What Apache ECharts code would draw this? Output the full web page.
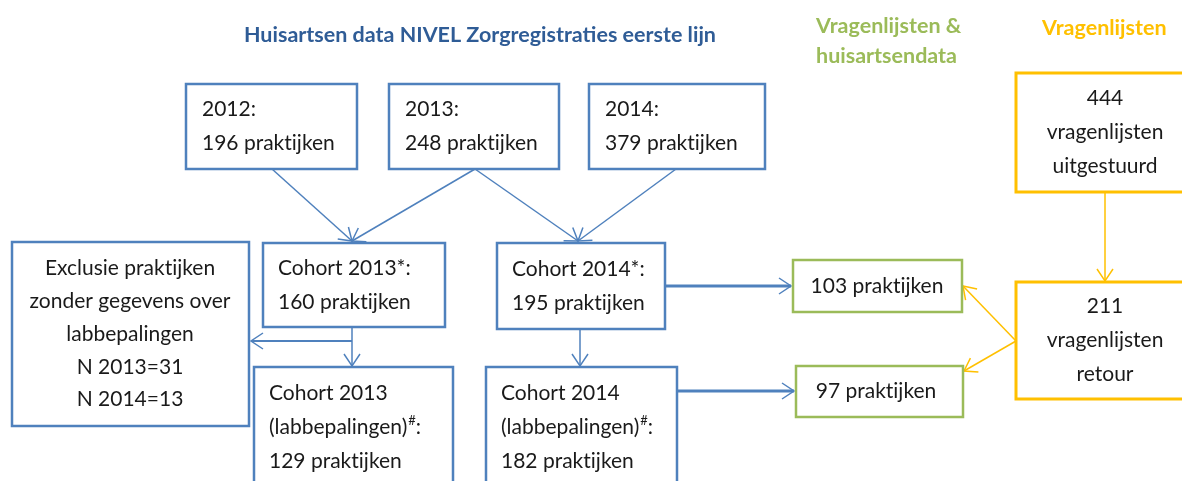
<!DOCTYPE html>
<html>
<head>
<meta charset="utf-8">
<style>
  html, body { margin: 0; padding: 0; background: #fff; }
  #chart { width: 1182px; height: 481px; }
</style>
<script src="https://cdn.jsdelivr.net/npm/echarts@6/dist/echarts.min.js"></script>
</head>
<body>
<div id="chart"></div>
<script>
// flow numbers
const years = ['2012', '2013', '2014'];
const yearPractices = [196, 248, 379];
const cohortYears = ['2013', '2014'];
const cohortPractices = [160, 195];
const labPractices = [129, 182];
const excluded = [31, 13];
const sentQuestionnaires = 444;
const returnedQuestionnaires = 211;
const matchedPractices = [103, 97];

const headings = [
  'Huisartsen data NIVEL Zorgregistraties eerste lijn',
  'Vragenlijsten &\nhuisartsendata',
  'Vragenlijsten'
];

// zero width non-joiner keeps Lato from joining "ti"
const prak = ' prakt\u200Cijken';

// box texts
const boxLabels = [
  years[0] + ':\n' + yearPractices[0] + prak,
  years[1] + ':\n' + yearPractices[1] + prak,
  years[2] + ':\n' + yearPractices[2] + prak,
  'Cohort ' + cohortYears[0] + '*:\n' + cohortPractices[0] + prak,
  'Cohort ' + cohortYears[1] + '*:\n' + cohortPractices[1] + prak,
  'Exclusie prakt\u200Cijken\nzonder gegevens over\nlabbepalingen\nN ' + cohortYears[0] + '=' + excluded[0] + '\nN ' + cohortYears[1] + '=' + excluded[1],
  'Cohort ' + cohortYears[0] + '\n(labbepalingen){sup|#}:\n' + labPractices[0] + prak,
  'Cohort ' + cohortYears[1] + '\n(labbepalingen){sup|#}:\n' + labPractices[1] + prak,
  matchedPractices[0] + prak,
  matchedPractices[1] + prak,
  sentQuestionnaires + '\nvragenlijsten\nuitgestuurd',
  returnedQuestionnaires + '\nvragenlijsten\nretour'
];

// layout (pixel space of the 1182x481 canvas): x0, y0, x1, y1, text x, align, kind
const boxLayout = [
  [186, 84, 357, 169, 202, 'left', 'blue'],
  [389, 84, 559, 169, 405, 'left', 'blue'],
  [589, 84, 765, 169, 605, 'left', 'blue'],
  [263, 243, 445, 327, 278, 'left', 'blue'],
  [497, 243, 665, 329, 512, 'left', 'blue'],
  [12, 242, 249, 426, 130, 'center', 'blue'],
  [254, 367, 453, 488, 269, 'left', 'blue'],
  [486, 367, 677, 488, 501, 'left', 'blue'],
  [793, 260, 962, 312, 877, 'center', 'green'],
  [796, 366, 963, 417, 876, 'center', 'green'],
  [1016, 73, 1194, 192, 1105, 'center', 'orange'],
  [1016, 282, 1194, 399, 1105, 'center', 'orange']
];

const arrowLayout = [
  [[272, 169], [352, 241], 'blue', 1.5],
  [[475, 169], [352, 241], 'blue', 1.5],
  [[475, 169], [578, 241], 'blue', 1.5],
  [[676, 169], [578, 241], 'blue', 1.5],
  [[352, 341], [251, 341], 'blue', 2],
  [[352, 327], [352, 366], 'blue', 1.5],
  [[580, 329], [580, 366], 'blue', 1.5],
  [[665, 286], [791, 286], 'blue', 3],
  [[677, 391], [794, 391], 'blue', 3],
  [[1105, 192], [1105, 281], 'orange', 1.5],
  [[1016, 341], [963, 286], 'orange', 1.5],
  [[1016, 341], [964, 371], 'orange', 1.5]
];

const colors = { blue: '#4F81BD', green: '#9BBB59', orange: '#FFC000' };
const boxWidth = { blue: 2.5, green: 2.5, orange: 3 };

const chart = echarts.init(document.getElementById('chart'));

chart.setOption({
  backgroundColor: '#fff',
  animation: false,
  title: [
    {
      text: headings[0], left: 475, top: 19, textAlign: 'center',
      textStyle: { color: '#2F5C96', fontFamily: 'Lato', fontWeight: 'bold', fontSize: 21.5 }
    },
    {
      text: headings[1], left: 811, top: 6,
      textStyle: { color: colors.green, fontFamily: 'Lato', fontWeight: 'bold', fontSize: 21.5, lineHeight: 30 }
    },
    {
      text: headings[2], left: 1037, top: 12,
      textStyle: { color: colors.orange, fontFamily: 'Lato', fontWeight: 'bold', fontSize: 21.5 }
    }
  ],
  grid: { left: 0, right: 0, top: 0, bottom: 0 },
  xAxis: { type: 'value', min: 0, max: 1182, show: false },
  yAxis: { type: 'value', min: 0, max: 481, inverse: true, show: false },
  series: [
    {
      // arrows
      type: 'custom',
      clip: false,
      data: arrowLayout.map(a => [a[0][0], a[0][1], a[1][0], a[1][1]]),
      encode: { x: [0, 2], y: [1, 3] },
      renderItem: function (params, api) {
        const a = arrowLayout[params.dataIndex];
        const s = api.coord([api.value(0), api.value(1)]);
        const e = api.coord([api.value(2), api.value(3)]);
        const dx = e[0] - s[0], dy = e[1] - s[1];
        const len = Math.sqrt(dx * dx + dy * dy);
        const ux = dx / len, uy = dy / len;
        const L = 12, W = 8;
        const color = colors[a[2]];
        return {
          type: 'group',
          children: [
            {
              type: 'line',
              shape: { x1: s[0], y1: s[1], x2: e[0], y2: e[1] },
              style: { stroke: color, lineWidth: a[3] }
            },
            {
              type: 'polyline',
              shape: {
                points: [
                  [e[0] - ux * L - uy * W, e[1] - uy * L + ux * W],
                  [e[0], e[1]],
                  [e[0] - ux * L + uy * W, e[1] - uy * L - ux * W]
                ]
              },
              style: { stroke: color, lineWidth: 1.5, fill: null }
            }
          ]
        };
      }
    },
    {
      // boxes
      type: 'custom',
      clip: false,
      data: boxLayout.map(b => [b[0], b[1], b[2], b[3]]),
      encode: { x: [0, 2], y: [1, 3] },
      renderItem: function (params, api) {
        const b = boxLayout[params.dataIndex];
        const p0 = api.coord([api.value(0), api.value(1)]);
        const p1 = api.coord([api.value(2), api.value(3)]);
        const tx = api.coord([b[4], 0])[0];
        let cy = (p0[1] + p1[1]) / 2;
        if (p1[1] > 481) cy = p0[1] + 60;
        const lh = params.dataIndex === 5 ? 32.8 : 34;
        return {
          type: 'group',
          children: [
            {
              type: 'rect',
              shape: { x: p0[0], y: p0[1], width: p1[0] - p0[0], height: p1[1] - p0[1] },
              style: { fill: '#fff', stroke: colors[b[6]], lineWidth: boxWidth[b[6]] }
            },
            {
              type: 'text',
              style: {
                text: boxLabels[params.dataIndex],
                x: tx, y: cy,
                align: b[5], verticalAlign: 'middle',
                fill: '#1a1a1a',
                font: '21px Lato',
                lineHeight: lh,
                rich: {
                  sup: { fontSize: 13, fontFamily: 'Lato', fill: '#1a1a1a', verticalAlign: 'top', lineHeight: lh, padding: [4, 0, 0, 1] }
                }
              }
            }
          ]
        };
      }
    }
  ]
});
</script>
</body>
</html>
